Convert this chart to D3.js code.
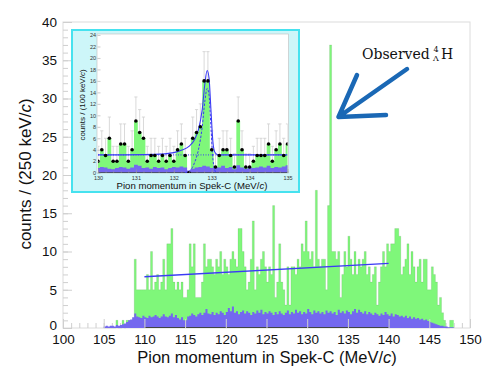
<!DOCTYPE html>
<html>
<head>
<meta charset="utf-8">
<script src="https://cdn.jsdelivr.net/npm/d3@7"></script>
<style>
  body { margin: 0; background: #fff; }
  svg { display: block; }
</style>
</head>
<body>
<div id="chart"></div>
<script>
// Hoveddata: 0.25 MeV bins fra 105 MeV
var binStart = 105;
var binWidth = 0.25;
var greenCounts = [
    0, 0, 0, 0,   0, 0, 1, 0,   0, 1, 0, 1,   1, 1, 1, 9,
    5, 5, 5, 5,   5, 7, 5, 10,  5, 6, 7, 5,   6, 9, 5, 11,
    11, 13, 6, 5, 6, 5, 6, 4,   4, 5, 11, 8,  11, 4, 4, 4,
    6, 11, 8, 9,  9, 8, 7, 9,   8, 10, 7, 9,  8, 7, 9, 10,
    9, 8, 13, 13, 10, 8, 5, 6,  9, 14, 5, 8,  7, 9, 10, 8,
    6, 8, 7, 16,  4, 6, 11, 6,  5, 3, 8, 3,   8, 8, 7, 9,
    8, 11, 10, 14, 10, 9, 10, 8, 18, 9, 8, 9, 9, 5, 16, 37,
    10, 10, 9, 10, 4, 7, 10, 8, 12, 9, 7, 10, 7, 9, 8, 9,
    10, 7, 8, 6,  7, 8, 3, 6,   8, 10, 8, 11, 10, 11, 11, 13,
    13, 12, 7, 8, 9, 11, 7, 10, 8, 6, 8, 9,   6, 9, 9, 5,
    5, 8, 7, 6,   3, 4, 2, 1,   0, 0, 1, 1
];
var blueCounts = [
    0.2, 0.3, 0.2, 0.3,  0.3, 0.2, 0.4, 0.3,  0.4, 0.5, 0.6, 0.8,  1.0, 1.1, 1.4, 1.9,
    1.5, 1.4, 1.3, 1.6,  1.4, 1.3, 1.6, 1.4,  1.5, 1.7, 1.5, 1.3,  1.5, 1.8, 1.5, 1.4,
    1.6, 1.9, 1.4, 1.7,  1.3, 1.1, 1.4, 1.0,  1.0, 1.5, 1.6, 1.9,  1.7, 1.5, 1.8, 2.0,
    1.7, 2.0, 2.5, 1.9,  1.8, 2.1, 1.7, 2.0,  1.8, 2.2, 2.0, 1.7,  2.1, 2.6, 2.2, 2.8,
    2.0, 2.2, 1.8, 2.1,  2.3, 1.9, 2.2, 2.0,  1.7, 2.1, 1.9, 2.3,  2.0, 2.4, 1.8, 2.1,
    1.9, 2.2, 2.0, 1.7,  2.1, 1.8, 2.2, 1.9,  1.7, 2.0, 2.3, 1.8,  2.1, 1.9, 2.4, 2.0,
    2.2, 1.8, 2.1, 1.9,  2.5, 2.1, 1.8, 2.3,  2.0, 2.2, 1.9, 2.1,  1.8, 2.3, 2.0, 2.2,
    1.9, 2.1, 1.7, 2.4,  2.0, 2.2, 1.9, 2.3,  2.1, 1.8, 2.2, 2.5,  2.0, 2.4, 2.1, 1.9,
    2.2, 1.8, 2.1, 1.9,  1.7, 2.0, 1.8, 1.6,  1.9, 1.7, 2.1, 1.8,  1.6, 1.9, 1.5, 1.8,
    1.7, 1.5, 1.6, 1.4,  1.6, 1.3, 1.5, 1.2,  1.4, 1.2, 1.3, 1.1,  1.2, 1.0, 1.1, 0.9,
    0.8, 0.7, 0.6, 0.5,  0.4, 0.3, 0.3, 0.2,  0.2, 0.1, 0.1, 0.1
];
// Lineært fit (MeV, counts)
var fitLine = [[110, 6.7], [140, 8.45]];
var xTicks = [100, 105, 110, 115, 120, 125, 130, 135, 140, 145, 150];
var yTicks = [0, 5, 10, 15, 20, 25, 30, 35, 40];

// Indsat figur: 0.1 MeV bins centreret på 130.0 ... 135.0
var insetCenters = d3.range(51).map(function (i) { return +(130 + i * 0.1).toFixed(1); });
var insetCounts = [
    2, 4, 3, 6, 2, 2, 5, 5, 2, 4,
    9, 7, 6, 2, 3, 3, 2, 3, 2, 3,
    2, 4, 5, 3, 0, 6, 7, 8, 16, 16,
    4, 1, 3, 4, 4, 3, 1, 9, 4, 1,
    1, 2, 3, 3, 3, 5, 2, 4, 5, 3, 5
];
var insetErrTop = [
    4.6, 7.3, 6.0, 9.7, 4.6, 4.6, 8.5, 8.5, 4.6, 7.3,
    13.2, 11, 9.7, 4.6, 6.0, 6.0, 4.6, 6.0, 4.6, 6.0,
    4.6, 7.3, 8.5, 6.0, 0, 9.7, 11, 12, 21.1, 21.1,
    7.3, 3.3, 6.0, 7.3, 7.3, 6.0, 3.3, 13.2, 7.3, 3.3,
    3.3, 4.6, 6.0, 6.0, 6.0, 8.5, 4.6, 7.3, 8.5, 6.0, 8.5
];
var insetBlue = [
    0.8, 1.0, 0.9, 0.7, 0.6, 0.8, 1.0, 0.9, 0.7, 0.9,
    1.4, 1.2, 0.8, 0.9, 0.7, 1.0, 0.8, 0.9, 0.6, 0.8,
    1.0, 0.9, 1.1, 0.9, 0.4, 0.7, 0.9, 1.0, 1.2, 1.1,
    0.8, 1.0, 0.9, 1.2, 0.8, 1.0, 0.6, 1.3, 0.9, 0.7,
    1.0, 0.8, 0.9, 1.1, 0.9, 1.2, 0.8, 1.0, 0.9, 1.1, 1.3
];
// Fit-kurver
var fitTotal = [[130, 3.1], [131.5, 3.2], [132.0, 3.5], [132.2, 3.9], [132.4, 4.6], [132.55, 5.8],
    [132.65, 7.5], [132.75, 11], [132.82, 15.5], [132.88, 17.8], [132.93, 16.5], [132.98, 11],
    [133.03, 5.5], [133.08, 3.6], [133.15, 3.15], [133.3, 3.1], [135, 3.1]];
var fitSignal = [[132.3, 0], [132.45, 0.5], [132.55, 1.8], [132.65, 4], [132.75, 8], [132.82, 12.5],
    [132.88, 14.7], [132.93, 13.5], [132.98, 8], [133.03, 2.5], [133.08, 0.5], [133.12, 0]];
var fitBackground = [[130, 3.1], [135, 3.1]];
var insetXTicks = [130, 131, 132, 133, 134, 135];
var insetYTicks = d3.range(0, 25, 2);

var w = 500;
var h = 375;
var green = "#7ff77a";
var blue = "#7468ef";
var font = "'Liberation Sans', Arial, Helvetica, sans-serif";

var svg = d3.select("#chart").append("svg")
    .attr("width", w)
    .attr("height", h);

var xScale = d3.scaleLinear().domain([100, 150]).range([63, 470]);
var yScale = d3.scaleLinear().domain([0, 40]).range([328, 22]);

// Ramme
svg.append("rect")
    .attr("x", 63).attr("y", 22)
    .attr("width", 407).attr("height", 306)
    .style("fill", "#fff")
    .style("stroke", "#dcdcdc")
    .style("stroke-width", 1);

// Minor ticks
var gMinorY = svg.append("g").attr("transform", "translate(63,0)")
    .call(d3.axisLeft(yScale).tickValues(d3.range(0, 41, 1)).tickSize(-5).tickFormat(""));
var gMinorX = svg.append("g").attr("transform", "translate(0,328)")
    .call(d3.axisBottom(xScale).tickValues(d3.range(100, 151, 1)).tickSize(-5).tickFormat(""));

// Step-histogram helper
function stepPoints(counts, start, width) {
    var pts = counts.map(function (c, i) { return [start + i * width, c]; });
    pts.push([start + counts.length * width, counts[counts.length - 1]]);
    return pts;
}

var area = d3.area()
    .x(function (d) { return xScale(d[0]); })
    .y0(yScale(0))
    .y1(function (d) { return yScale(d[1]); })
    .curve(d3.curveStepAfter);

svg.append("path")
    .datum(stepPoints(greenCounts, binStart, binWidth))
    .attr("d", area)
    .style("fill", green);

svg.append("path")
    .datum(stepPoints(greenCounts, binStart, binWidth))
    .attr("d", d3.line()
        .x(function (d) { return xScale(d[0]); })
        .y(function (d) { return yScale(d[1]); })
        .curve(d3.curveStepAfter))
    .style("fill", "none")
    .style("stroke", "#4a6a4a")
    .style("stroke-width", 0.4)
    .style("stroke-opacity", 0.35);

svg.append("path")
    .datum(stepPoints(blueCounts, binStart, binWidth))
    .attr("d", area)
    .style("fill", blue);

// Mørk linje ved nul i fit-området
svg.append("line")
    .attr("x1", xScale(110)).attr("x2", xScale(140))
    .attr("y1", yScale(0) - 0.5).attr("y2", yScale(0) - 0.5)
    .style("stroke", "#444").style("stroke-width", 1);

// Fit-linje
svg.append("path")
    .datum(fitLine)
    .attr("d", d3.line()
        .x(function (d) { return xScale(d[0]); })
        .y(function (d) { return yScale(d[1]); }))
    .style("stroke", "#3b3bf5")
    .style("stroke-width", 1.4)
    .style("fill", "none");

// Major ticks og labels
var gy = svg.append("g").attr("transform", "translate(63,0)")
    .call(d3.axisLeft(yScale).tickValues(yTicks).tickSize(-9).tickPadding(6));
var gx = svg.append("g").attr("transform", "translate(0,328)")
    .call(d3.axisBottom(xScale).tickValues(xTicks).tickSize(-9).tickPadding(6));

[gMinorY, gMinorX, gy, gx].forEach(function (g) {
    g.select(".domain").remove();
    g.selectAll("line").style("stroke", "#cfcfcf");
    g.selectAll("text").style("font-family", font).style("font-size", "13.5px").style("fill", "#111");
});

// Løft "0" lidt, så den ikke rammer "100"
gy.selectAll(".tick text").filter(function (d) { return d === 0; }).attr("y", -3);

// Aksetitler
var xt = svg.append("text")
    .attr("x", 267).attr("y", 362.5)
    .attr("text-anchor", "middle")
    .style("font-family", font).style("font-size", "16.5px").style("fill", "#111");
xt.append("tspan").text("Pion momentum in Spek-C (MeV/");
xt.append("tspan").style("font-style", "italic").text("c");
xt.append("tspan").text(")");

var yt = svg.append("text")
    .attr("transform", "translate(31,174) rotate(-90)")
    .attr("text-anchor", "middle")
    .style("font-family", font).style("font-size", "17px").style("fill", "#111");
yt.append("tspan").text("counts / (250 keV/");
yt.append("tspan").style("font-style", "italic").text("c");
yt.append("tspan").text(")");

// ---------- Indsat figur ----------
svg.append("rect")
    .attr("x", 72).attr("y", 30)
    .attr("width", 227).attr("height", 162)
    .style("fill", "#cdf6f9")
    .style("stroke", "#46e2ef")
    .style("stroke-width", 2);

var ix = d3.scaleLinear().domain([130, 135]).range([98, 287.5]);
var iy = d3.scaleLinear().domain([0, 24]).range([172.7, 35]);

svg.append("rect")
    .attr("x", 97).attr("y", 34)
    .attr("width", 191.5).attr("height", 139)
    .style("fill", "#fff")
    .style("stroke", "#bdbdbd")
    .style("stroke-width", 0.6);

svg.append("clipPath").attr("id", "insetClip")
    .append("rect").attr("x", 98).attr("y", 34).attr("width", 189.5).attr("height", 139);

var gi = svg.append("g").attr("clip-path", "url(#insetClip)");

var insetData = insetCenters.map(function (c, i) {
    return { x: c, n: insetCounts[i], top: insetErrTop[i], b: insetBlue[i] };
});

// Fejlstænger
gi.selectAll(".err")
    .data(insetData.filter(function (d) { return d.top > 0; }))
    .enter().append("path")
    .attr("d", function (d) {
        var cx = ix(d.x);
        return "M" + cx + "," + iy(d.n) + "V" + iy(d.top) + "M" + (cx - 1.6) + "," + iy(d.top) + "H" + (cx + 1.6);
    })
    .style("stroke", "#cfcfcf").style("stroke-width", 0.8).style("fill", "none");

var iArea = d3.area()
    .x(function (d) { return ix(d[0]); })
    .y0(iy(0))
    .y1(function (d) { return iy(d[1]); })
    .curve(d3.curveStepAfter);

gi.append("path")
    .datum(stepPoints(insetCounts, 129.95, 0.1))
    .attr("d", iArea)
    .style("fill", green);

gi.append("path")
    .datum(stepPoints(insetBlue, 129.95, 0.1))
    .attr("d", iArea)
    .style("fill", blue);

gi.append("line")
    .attr("x1", ix(130)).attr("x2", ix(135))
    .attr("y1", iy(0)).attr("y2", iy(0))
    .style("stroke", "#333").style("stroke-width", 0.8);

var iLine = d3.line()
    .x(function (d) { return ix(d[0]); })
    .y(function (d) { return iy(d[1]); })
    .curve(d3.curveMonotoneX);

gi.append("path").datum(fitBackground).attr("d", iLine)
    .style("fill", "none").style("stroke", "#3b3bf5").style("stroke-width", 1)
    .style("stroke-dasharray", "1,1.5");
gi.append("path").datum(fitSignal).attr("d", iLine)
    .style("fill", "none").style("stroke", "#3b3bf5").style("stroke-width", 1)
    .style("stroke-dasharray", "2.5,1.5");
gi.append("path").datum(fitTotal).attr("d", iLine)
    .style("fill", "none").style("stroke", "#3b3bf5").style("stroke-width", 1.1);

gi.selectAll(".dot")
    .data(insetData)
    .enter().append("circle")
    .attr("cx", function (d) { return ix(d.x); })
    .attr("cy", function (d) { return iy(d.n); })
    .attr("r", 1.8)
    .style("fill", "#000");

// Indsat akser
var giy = svg.append("g").attr("transform", "translate(97.5,0)")
    .call(d3.axisLeft(iy).tickValues(insetYTicks).tickSize(-3).tickPadding(1.5).tickFormat(d3.format("d")));
var gix = svg.append("g").attr("transform", "translate(0,173)")
    .call(d3.axisBottom(ix).tickValues(insetXTicks).tickSize(-4).tickPadding(3).tickFormat(d3.format("d")));
var gixm = svg.append("g").attr("transform", "translate(0,173)")
    .call(d3.axisBottom(ix).tickValues(d3.range(130, 135.01, 0.2)).tickSize(-2).tickFormat(""));
[giy, gix, gixm].forEach(function (g) {
    g.select(".domain").remove();
    g.selectAll("line").style("stroke", "#999").style("stroke-width", 0.5);
    g.selectAll("text").style("font-family", font).style("font-size", "5.5px").style("fill", "#333");
});

var ixt = svg.append("text")
    .attr("x", 192).attr("y", 189)
    .attr("text-anchor", "middle")
    .style("font-family", font).style("font-size", "9.6px").style("fill", "#111");
ixt.append("tspan").text("Pion momentum in Spek-C (MeV/");
ixt.append("tspan").style("font-style", "italic").text("c");
ixt.append("tspan").text(")");

var iyt = svg.append("text")
    .attr("transform", "translate(85,105) rotate(-90)")
    .attr("text-anchor", "middle")
    .style("font-family", font).style("font-size", "8px").style("fill", "#111");
iyt.append("tspan").text("counts / (100 keV/");
iyt.append("tspan").style("font-style", "italic").text("c");
iyt.append("tspan").text(")");

// ---------- Annotering ----------
var serif = "'DejaVu Serif', 'Liberation Serif', serif";
svg.append("text")
    .attr("x", 362).attr("y", 59)
    .style("font-family", serif)
    .style("font-size", "14px")
    .style("fill", "#111")
    .text("Observed");
svg.append("text")
    .attr("x", 433.5).attr("y", 52)
    .style("font-family", serif)
    .style("font-size", "8px").style("fill", "#111")
    .text("4");
svg.append("text")
    .attr("x", 433).attr("y", 61)
    .style("font-family", serif)
    .style("font-size", "8px").style("fill", "#111")
    .text("Λ");
svg.append("text")
    .attr("x", 441).attr("y", 59)
    .style("font-family", serif)
    .style("font-size", "14px").style("fill", "#111")
    .text("H");

// Pil
svg.append("path")
    .attr("d", "M407,69 L338.5,117 M357,75 L338.5,117 L386,115")
    .style("fill", "none")
    .style("stroke", "#1a68b5")
    .style("stroke-width", 4.5)
    .style("stroke-linecap", "round")
    .style("stroke-linejoin", "round");
</script>
</body>
</html>
